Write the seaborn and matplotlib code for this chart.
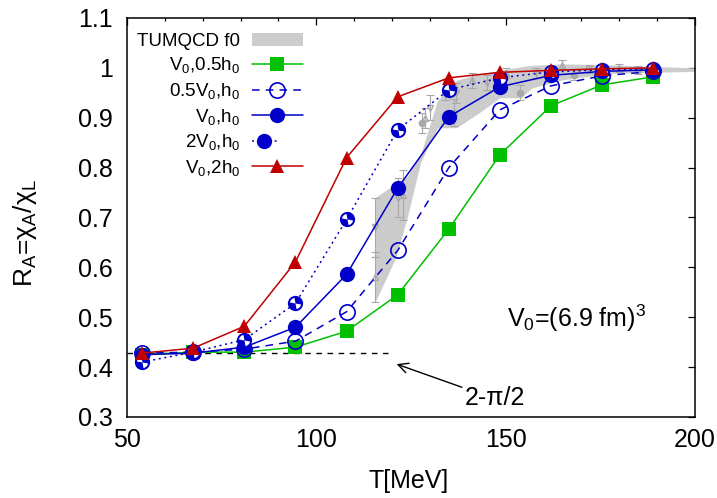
import numpy as np
import matplotlib
matplotlib.use("Agg")
import matplotlib.pyplot as plt
import seaborn as sns
from matplotlib.lines import Line2D
from matplotlib.patches import Patch
from matplotlib.path import Path
from matplotlib.legend_handler import HandlerTuple
from matplotlib.ticker import AutoMinorLocator, FuncFormatter

# ---------------- data ----------------
T = [54, 67.5, 81, 94.5, 108, 121.5, 135, 148.5, 162, 175.5, 189]
r_v0_05h0 = [0.425, 0.430, 0.430, 0.440, 0.472, 0.545, 0.677, 0.826, 0.924, 0.966, 0.982]
r_05v0_h0 = [0.428, 0.430, 0.436, 0.452, 0.511, 0.634, 0.800, 0.916, 0.964, 0.984, 0.993]
r_v0_h0 = [0.425, 0.428, 0.440, 0.480, 0.586, 0.759, 0.902, 0.962, 0.985, 0.993, 0.996]
r_2v0_h0 = [0.410, 0.430, 0.455, 0.528, 0.696, 0.876, 0.956, 0.980, 0.992, 0.996, 0.998]
r_v0_2h0 = [0.428, 0.438, 0.482, 0.611, 0.820, 0.942, 0.980, 0.991, 0.995, 0.998, 1.000]

band_T = [115.5, 121, 124, 127.5, 132, 137, 143, 148.5, 154, 157, 165, 178, 200]
band_lo = [0.53, 0.62, 0.70, 0.81, 0.88, 0.88, 0.91, 0.94, 0.94, 0.96, 0.976, 0.989, 0.993]
band_hi = [0.74, 0.768, 0.782, 0.825, 0.935, 0.975, 0.988, 0.995, 1.002, 1.005, 1.008, 1.006, 1.0]

lat_up_T = [115.5, 123, 128.7, 134, 141, 150, 165, 180]
lat_up_v = [0.58, 0.745, 0.90, 0.955, 0.975, 0.99, 1.005, 1.0]
lat_up_e = [0.05, 0.05, 0.02, 0.02, 0.015, 0.01, 0.01, 0.008]
lat_dn_T = [115.5, 121.5, 130, 137, 145, 158, 172]
lat_dn_v = [0.68, 0.74, 0.92, 0.95, 0.97, 0.99, 0.997]
lat_dn_e = [0.06, 0.04, 0.025, 0.02, 0.015, 0.01, 0.008]
lat_ci_T = [128, 136.4, 153.8, 168, 185]
lat_ci_v = [0.89, 0.91, 0.95, 0.985, 0.995]
lat_ci_e = [0.02, 0.027, 0.015, 0.01, 0.008]

limit_value = 2 - np.pi / 2
limit_T = [50, 119]

labels = ["TUMQCD f0", "V$_0$,0.5h$_0$", "0.5V$_0$,h$_0$", "V$_0$,h$_0$",
          "2V$_0$,h$_0$", "V$_0$,2h$_0$"]
yticks = [0.3, 0.4, 0.5, 0.6, 0.7, 0.8, 0.9, 1.0, 1.1]
xticks = [50, 100, 150, 200]

# ---------------- style ----------------
sns.set_style("white")
plt.rcParams["font.family"] = ["Liberation Sans", "DejaVu Sans"]
plt.rcParams["mathtext.fontset"] = "custom"
plt.rcParams["mathtext.rm"] = "Liberation Sans"
plt.rcParams["mathtext.it"] = "Liberation Sans:italic"
plt.rcParams["mathtext.default"] = "regular"
for k in ["text.color", "axes.labelcolor", "xtick.color", "ytick.color", "axes.edgecolor"]:
    plt.rcParams[k] = "black"

GREEN = "#00c000"
BLUE = "#0000c8"
RED = "#c00000"
GREY = "#cccccc"
LGREY = "#a8a8a8"
FS = 18

fig = plt.figure(figsize=(7.17, 4.98), dpi=100)
ax = fig.add_axes([0.1771, 0.1627, 0.7922, 0.8012])

# band
ax.fill_between(band_T, band_lo, band_hi, color=GREY, lw=0, zorder=1)
# lattice points
for tt, vv, ee, mk in [(lat_up_T, lat_up_v, lat_up_e, "^"),
                       (lat_dn_T, lat_dn_v, lat_dn_e, "v"),
                       (lat_ci_T, lat_ci_v, lat_ci_e, "o")]:
    ax.errorbar(tt, vv, yerr=ee, fmt=mk, ms=4.5, mfc="none" if mk != "o" else LGREY,
                mec=LGREY, ecolor=LGREY, elinewidth=0.8, capsize=3, capthick=0.8,
                zorder=2)

# limit line
sns.lineplot(x=limit_T, y=[limit_value, limit_value], color="black", lw=1.0,
             ax=ax, zorder=3)
ax.lines[-1].set_dashes((4, 4))

lw = 1.1
sns.lineplot(x=T, y=r_v0_05h0, color=GREEN, lw=lw, marker="s", ms=10,
             mec=GREEN, mew=0, ax=ax, zorder=4)
sns.lineplot(x=T, y=r_05v0_h0, color=BLUE, lw=lw, marker="o", ms=11,
             mfc="none", mec=BLUE, mew=1.2, ax=ax, zorder=5)
ax.lines[-1].set_dashes((5, 4))
sns.lineplot(x=T, y=r_v0_h0, color=BLUE, lw=lw, marker="o", ms=11,
             mec=BLUE, mew=0, ax=ax, zorder=6)
sns.lineplot(x=T, y=r_2v0_h0, color=BLUE, lw=lw, marker="o", ms=11,
             mec=BLUE, mew=0, ax=ax, zorder=7)
ax.lines[-1].set_dashes((1.3, 2.4))
quad = Path.make_compound_path(Path.wedge(100, 170), Path.wedge(280, 350))
sns.lineplot(x=T, y=r_2v0_h0, color="white", lw=0, marker=quad, ms=8,
             mec="white", mew=0, ax=ax, zorder=7.5)
sns.lineplot(x=T, y=r_v0_2h0, color=RED, lw=lw, marker="^", ms=10.5,
             mec=RED, mew=0, ax=ax, zorder=8)

# annotations
ax.text(150.3, 0.48, "V$_0$=(6.9 fm)$^3$", fontsize=FS, ha="left", va="baseline")
ax.annotate("2-π/2", xy=(121.2, 0.406), xytext=(139.3, 0.324), fontsize=FS,
            ha="left", va="baseline",
            arrowprops=dict(arrowstyle="->", color="black", lw=1.0,
                            shrinkA=0, shrinkB=0, relpos=(0, 0.9)))

# axes
ax.set_xlim(50, 200)
ax.set_ylim(0.3, 1.1)
ax.set_xticks(xticks)
ax.set_yticks(yticks)
ax.xaxis.set_minor_locator(AutoMinorLocator(5))
ax.yaxis.set_major_formatter(FuncFormatter(lambda v, p: f"{v:g}"))
ax.tick_params(which="both", direction="in", top=True, right=True,
               labelsize=FS, width=0.9, color="black", labelcolor="black")
ax.tick_params(which="major", length=5)
ax.tick_params(which="minor", length=2.5)
ax.tick_params(axis="x", pad=8)
ax.tick_params(axis="y", pad=10)
for s in ax.spines.values():
    s.set_linewidth(1.1)
    s.set_color("black")
ax.set_xlabel("T[MeV]", fontsize=FS)
ax.set_ylabel("R$_A$=χ$_A$/χ$_L$", fontsize=FS + 1)
ax.xaxis.set_label_coords(0.495, -0.13)
ax.yaxis.set_label_coords(-0.155, 0.46)

# legend
h_band = Patch(facecolor=GREY, edgecolor="none")
h1 = Line2D([], [], color=GREEN, lw=lw, marker="s", ms=10, mew=0)
h2 = Line2D([], [], color=BLUE, lw=lw, marker="o", ms=11, mfc="none", mew=1.2, dashes=(5, 4))
h3 = Line2D([], [], color=BLUE, lw=lw, marker="o", ms=11, mew=0)
h4a = Line2D([], [], color=BLUE, lw=lw, marker="o", ms=11, mew=0, dashes=(1.3, 2.4))
h4b = Line2D([], [], color="white", lw=0, marker=quad, ms=8, mew=0)
h5 = Line2D([], [], color=RED, lw=lw, marker="^", ms=10.5, mew=0)
ax.legend([h_band, h1, h2, h3, (h4a, h4b), h5], labels,
          handler_map={tuple: HandlerTuple(ndivide=None, pad=0)},
          loc="upper right", bbox_to_anchor=(0.31, 0.963), frameon=False,
          markerfirst=False, fontsize=13.5, handlelength=2.75, handletextpad=0.6,
          labelspacing=0.3, borderpad=0, borderaxespad=0)

fig.savefig("out.png", dpi=100)
